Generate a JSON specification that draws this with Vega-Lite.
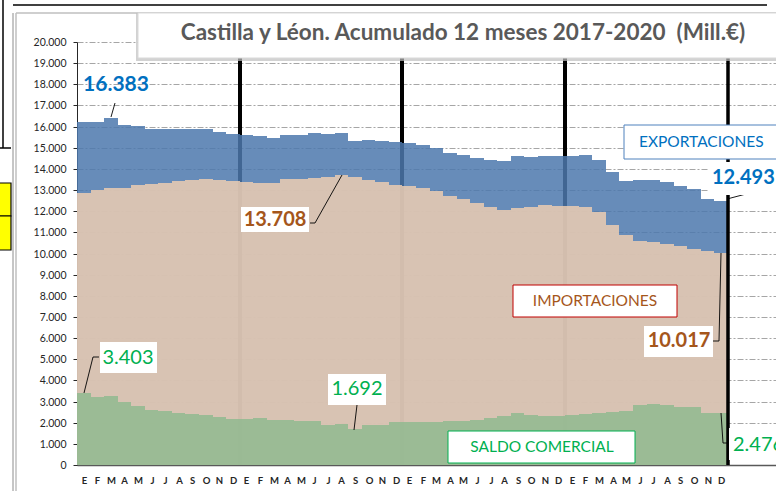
{
  "$schema": "https://vega.github.io/schema/vega-lite/v6.json",
  "width": 699,
  "height": 423,
  "autosize": {"type": "none"},
  "padding": {"left": 77, "top": 42, "right": 0, "bottom": 26},
  "background": "white",
  "config": {
    "view": {"stroke": null},
    "font": "Lato",
    "axis": {"labelOverlap": false, "labelBound": false, "labelFlush": false},
    "axisX": {"labelOverlap": false, "labelFont": "Lato", "labelFontWeight": "bold", "labelFontSize": 9.5, "labelColor": "#262626", "ticks": false, "grid": false, "domainColor": "#595959", "domainWidth": 1.5, "labelPadding": 10, "labelAngle": 0, "tickCount": 100},
    "axisY": {"labelOverlap": false, "labelFont": "Lato", "labelFontSize": 10.5, "labelColor": "#262626", "grid": true, "gridColor": "#a6a6a6", "gridDash": [6, 2, 2, 2], "gridWidth": 1, "domainColor": "#262626", "tickColor": "#262626", "tickSize": 4, "labelPadding": 7, "tickCount": 50}
  },
  "datasets": {
    "months": [
      {"k": 0, "m": "E", "exp": 16240, "imp": 12840, "sal": 3403},
      {"k": 1, "m": "F", "exp": 16200, "imp": 12990, "sal": 3200},
      {"k": 2, "m": "M", "exp": 16383, "imp": 13100, "sal": 3280},
      {"k": 3, "m": "A", "exp": 16060, "imp": 13080, "sal": 2980},
      {"k": 4, "m": "M", "exp": 16040, "imp": 13230, "sal": 2810},
      {"k": 5, "m": "J", "exp": 15870, "imp": 13270, "sal": 2600},
      {"k": 6, "m": "J", "exp": 15870, "imp": 13320, "sal": 2550},
      {"k": 7, "m": "A", "exp": 15890, "imp": 13420, "sal": 2470},
      {"k": 8, "m": "S", "exp": 15900, "imp": 13480, "sal": 2420},
      {"k": 9, "m": "O", "exp": 15870, "imp": 13500, "sal": 2370},
      {"k": 10, "m": "N", "exp": 15760, "imp": 13480, "sal": 2280},
      {"k": 11, "m": "D", "exp": 15630, "imp": 13440, "sal": 2190},
      {"k": 12, "m": "E", "exp": 15580, "imp": 13400, "sal": 2180},
      {"k": 13, "m": "F", "exp": 15550, "imp": 13330, "sal": 2220},
      {"k": 14, "m": "M", "exp": 15460, "imp": 13340, "sal": 2120},
      {"k": 15, "m": "A", "exp": 15620, "imp": 13500, "sal": 2120},
      {"k": 16, "m": "M", "exp": 15600, "imp": 13500, "sal": 2100},
      {"k": 17, "m": "J", "exp": 15680, "imp": 13550, "sal": 2080},
      {"k": 18, "m": "J", "exp": 15640, "imp": 13620, "sal": 1900},
      {"k": 19, "m": "A", "exp": 15720, "imp": 13708, "sal": 1920},
      {"k": 20, "m": "S", "exp": 15330, "imp": 13630, "sal": 1692},
      {"k": 21, "m": "O", "exp": 15360, "imp": 13490, "sal": 1870},
      {"k": 22, "m": "N", "exp": 15300, "imp": 13390, "sal": 1910},
      {"k": 23, "m": "D", "exp": 15270, "imp": 13240, "sal": 2030},
      {"k": 24, "m": "E", "exp": 15220, "imp": 13180, "sal": 2040},
      {"k": 25, "m": "F", "exp": 15120, "imp": 13090, "sal": 2030},
      {"k": 26, "m": "M", "exp": 14970, "imp": 12960, "sal": 2010},
      {"k": 27, "m": "A", "exp": 14760, "imp": 12700, "sal": 2060},
      {"k": 28, "m": "M", "exp": 14680, "imp": 12600, "sal": 2080},
      {"k": 29, "m": "J", "exp": 14520, "imp": 12380, "sal": 2140},
      {"k": 30, "m": "J", "exp": 14430, "imp": 12200, "sal": 2230},
      {"k": 31, "m": "A", "exp": 14380, "imp": 12080, "sal": 2300},
      {"k": 32, "m": "S", "exp": 14620, "imp": 12160, "sal": 2460},
      {"k": 33, "m": "O", "exp": 14570, "imp": 12200, "sal": 2370},
      {"k": 34, "m": "N", "exp": 14600, "imp": 12280, "sal": 2320},
      {"k": 35, "m": "D", "exp": 14590, "imp": 12250, "sal": 2340},
      {"k": 36, "m": "E", "exp": 14600, "imp": 12230, "sal": 2370},
      {"k": 37, "m": "F", "exp": 14640, "imp": 12220, "sal": 2420},
      {"k": 38, "m": "M", "exp": 14400, "imp": 11950, "sal": 2450},
      {"k": 39, "m": "A", "exp": 13850, "imp": 11360, "sal": 2490},
      {"k": 40, "m": "M", "exp": 13420, "imp": 10880, "sal": 2540},
      {"k": 41, "m": "J", "exp": 13460, "imp": 10600, "sal": 2860},
      {"k": 42, "m": "J", "exp": 13460, "imp": 10550, "sal": 2880},
      {"k": 43, "m": "A", "exp": 13360, "imp": 10450, "sal": 2820},
      {"k": 44, "m": "S", "exp": 13200, "imp": 10350, "sal": 2760},
      {"k": 45, "m": "O", "exp": 13040, "imp": 10220, "sal": 2760},
      {"k": 46, "m": "N", "exp": 12560, "imp": 10100, "sal": 2440},
      {"k": 47, "m": "D", "exp": 12493, "imp": 10017, "sal": 2476}
    ],
    "years": [{"k": 12}, {"k": 24}, {"k": 36}, {"k": 48}]
  },
  "layer": [
    {
      "data": {"name": "years"},
      "transform": [{"filter": "datum.k < 48"}],
      "mark": {"type": "rule", "color": "#000000", "strokeWidth": 4},
      "encoding": {
        "x": {
          "field": "k", "type": "quantitative",
          "scale": {"domain": [0, 51.55], "nice": false, "zero": false, "round": true},
          "axis": {
            "values": [0.5,1.5,2.5,3.5,4.5,5.5,6.5,7.5,8.5,9.5,10.5,11.5,12.5,13.5,14.5,15.5,16.5,17.5,18.5,19.5,20.5,21.5,22.5,23.5,24.5,25.5,26.5,27.5,28.5,29.5,30.5,31.5,32.5,33.5,34.5,35.5,36.5,37.5,38.5,39.5,40.5,41.5,42.5,43.5,44.5,45.5,46.5,47.5],
            "labelExpr": "['E','F','M','A','M','J','J','A','S','O','N','D'][floor(datum.value) % 12]",
            "title": null, "labelOverlap": false, "tickCount": 100
          }
        },
        "y": {
          "datum": 0, "type": "quantitative",
          "scale": {"domain": [0, 20000], "nice": false, "zero": true, "round": true},
          "axis": {
            "values": [0,1000,2000,3000,4000,5000,6000,7000,8000,9000,10000,11000,12000,13000,14000,15000,16000,17000,18000,19000,20000],
            "labelExpr": "replace(format(datum.value, ','), ',', '.')",
            "title": null, "labelOverlap": false, "tickCount": 50
          }
        },
        "y2": {"datum": 20000}
      }
    },
    {
      "data": {"name": "months"},
      "mark": {"type": "area", "interpolate": "step-after", "color": "#4c78ad", "opacity": 0.85},
      "encoding": {
        "x": {"field": "k", "type": "quantitative"},
        "y": {"field": "exp", "type": "quantitative"},
        "y2": {"datum": 0}
      }
    },
    {
      "data": {"name": "months"},
      "transform": [{"filter": "datum.k == 47"}],
      "mark": {"type": "rect", "color": "#4c78ad", "opacity": 0.85},
      "encoding": {
        "x": {"field": "k", "type": "quantitative"},
        "x2": {"datum": 48},
        "y": {"field": "exp", "type": "quantitative"},
        "y2": {"datum": 0}
      }
    },
    {
      "data": {"name": "months"},
      "mark": {"type": "area", "interpolate": "step-after", "color": "#ecccb1", "opacity": 0.85},
      "encoding": {
        "x": {"field": "k", "type": "quantitative"},
        "y": {"field": "imp", "type": "quantitative"},
        "y2": {"datum": 0}
      }
    },
    {
      "data": {"name": "months"},
      "transform": [{"filter": "datum.k == 47"}],
      "mark": {"type": "rect", "color": "#ecccb1", "opacity": 0.85},
      "encoding": {
        "x": {"field": "k", "type": "quantitative"},
        "x2": {"datum": 48},
        "y": {"field": "imp", "type": "quantitative"},
        "y2": {"datum": 0}
      }
    },
    {
      "data": {"name": "months"},
      "mark": {"type": "area", "interpolate": "step-after", "color": "#90ba8f", "opacity": 0.85},
      "encoding": {
        "x": {"field": "k", "type": "quantitative"},
        "y": {"field": "sal", "type": "quantitative"},
        "y2": {"datum": 0}
      }
    },
    {
      "data": {"name": "months"},
      "transform": [{"filter": "datum.k == 47"}],
      "mark": {"type": "rect", "color": "#90ba8f", "opacity": 0.85},
      "encoding": {
        "x": {"field": "k", "type": "quantitative"},
        "x2": {"datum": 48},
        "y": {"field": "sal", "type": "quantitative"},
        "y2": {"datum": 0}
      }
    },
    {
      "data": {"name": "years"},
      "transform": [{"filter": "datum.k == 48"}],
      "mark": {"type": "rule", "color": "#000000", "strokeWidth": 3.5},
      "encoding": {
        "x": {"field": "k", "type": "quantitative"},
        "y": {"datum": 0},
        "y2": {"datum": 20000}
      }
    },
    {
      "data": {"values": [{}]},
      "layer": [
        {"mark": {"type": "rule", "color": "#000000", "strokeWidth": 0.9}, "encoding": {"x": {"datum": 2.80}, "y": {"datum": 17116}, "x2": {"datum": 2.51}, "y2": {"datum": 16454}}},
        {"mark": {"type": "rule", "color": "#000000", "strokeWidth": 0.9}, "encoding": {"x": {"datum": 17.18}, "y": {"datum": 11456}, "x2": {"datum": 17.55}, "y2": {"datum": 11456}}},
        {"mark": {"type": "rule", "color": "#000000", "strokeWidth": 0.9}, "encoding": {"x": {"datum": 17.55}, "y": {"datum": 11456}, "x2": {"datum": 19.52}, "y2": {"datum": 13712}}},
        {"mark": {"type": "rule", "color": "#000000", "strokeWidth": 0.9}, "encoding": {"x": {"datum": 1.62}, "y": {"datum": 5092}, "x2": {"datum": 1.20}, "y2": {"datum": 5092}}},
        {"mark": {"type": "rule", "color": "#000000", "strokeWidth": 0.9}, "encoding": {"x": {"datum": 1.20}, "y": {"datum": 5092}, "x2": {"datum": 0.52}, "y2": {"datum": 3390}}},
        {"mark": {"type": "rule", "color": "#000000", "strokeWidth": 0.9}, "encoding": {"x": {"datum": 20.63}, "y": {"datum": 2837}, "x2": {"datum": 20.45}, "y2": {"datum": 1655}}},
        {"mark": {"type": "rule", "color": "#000000", "strokeWidth": 0.9}, "encoding": {"x": {"datum": 47.91}, "y": {"datum": 12577}, "x2": {"datum": 49.31}, "y2": {"datum": 12799}}},
        {"mark": {"type": "rule", "color": "#000000", "strokeWidth": 0.9}, "encoding": {"x": {"datum": 46.92}, "y": {"datum": 5863}, "x2": {"datum": 47.35}, "y2": {"datum": 5863}}},
        {"mark": {"type": "rule", "color": "#000000", "strokeWidth": 0.9}, "encoding": {"x": {"datum": 47.35}, "y": {"datum": 5863}, "x2": {"datum": 47.47}, "y2": {"datum": 10024}}},
        {"mark": {"type": "rule", "color": "#000000", "strokeWidth": 0.9}, "encoding": {"x": {"datum": 47.47}, "y": {"datum": 2444}, "x2": {"datum": 47.61}, "y2": {"datum": 1026}}},
        {"mark": {"type": "rule", "color": "#000000", "strokeWidth": 0.9}, "encoding": {"x": {"datum": 47.61}, "y": {"datum": 1026}, "x2": {"datum": 48.04}, "y2": {"datum": 1026}}},

        {"mark": {"type": "rule", "color": "#000000", "strokeWidth": 1.5}, "encoding": {"x": {"datum": -4.72}, "y": {"datum": 21749}, "x2": {"datum": 50.88}, "y2": {"datum": 21749}}},
        {"mark": {"type": "rule", "color": "#000000", "strokeWidth": 1.5}, "encoding": {"x": {"datum": -5.46}, "y": {"datum": 21990}, "x2": {"datum": -5.46}, "y2": {"datum": 14988}}},
        {"mark": {"type": "rule", "color": "#000000", "strokeWidth": 1.5}, "encoding": {"x": {"datum": -5.70}, "y": {"datum": 14988}, "x2": {"datum": -4.87}, "y2": {"datum": 14988}}},
        {"mark": {"type": "rect", "fill": "#ffff00", "stroke": "#000000", "strokeWidth": 1.2}, "encoding": {"x": {"datum": -5.75}, "x2": {"datum": -4.87}, "y": {"datum": 13333}, "y2": {"datum": 11773}}},
        {"mark": {"type": "rect", "fill": "#ffff00", "stroke": "#000000", "strokeWidth": 1.2}, "encoding": {"x": {"datum": -5.75}, "x2": {"datum": -4.87}, "y": {"datum": 11773}, "y2": {"datum": 10165}}},
        {"mark": {"type": "rule", "color": "#8c8c8c", "strokeWidth": 1}, "encoding": {"x": {"datum": -4.72}, "y": {"datum": 21371}, "x2": {"datum": -4.72}, "y2": {"datum": -1300}}},
        {"mark": {"type": "rule", "color": "#bfbfbf", "strokeWidth": 1.5}, "encoding": {"x": {"datum": -4.52}, "y": {"datum": 21371}, "x2": {"datum": -4.52}, "y2": {"datum": -1300}}},
        {"mark": {"type": "rule", "color": "#bfbfbf", "strokeWidth": 1.5}, "encoding": {"x": {"datum": -4.52}, "y": {"datum": 21371}, "x2": {"datum": 53}, "y2": {"datum": 21371}}},

        {"mark": {"type": "rect", "fill": "#bfbfbf", "opacity": 0.7}, "encoding": {"x": {"datum": 4.32}, "x2": {"datum": 53}, "y": {"datum": 21371}, "y2": {"datum": 19100}}},
        {"mark": {"type": "rect", "fill": "#ffffff", "stroke": "#d9d9d9", "strokeWidth": 1}, "encoding": {"x": {"datum": 4.50}, "x2": {"datum": 53}, "y": {"datum": 21371}, "y2": {"datum": 19243}}},
        {"mark": {"type": "rect", "fill": "#ffffff"}, "encoding": {"x": {"datum": 12.09}, "x2": {"datum": 17.11}, "y": {"datum": 12199}, "y2": {"datum": 11017}}},
        {"mark": {"type": "rect", "fill": "#ffffff"}, "encoding": {"x": {"datum": 1.70}, "x2": {"datum": 5.90}, "y": {"datum": 5816}, "y2": {"datum": 4350}}},
        {"mark": {"type": "rect", "fill": "#ffffff"}, "encoding": {"x": {"datum": 18.53}, "x2": {"datum": 22.79}, "y": {"datum": 4303}, "y2": {"datum": 2837}}},
        {"mark": {"type": "rect", "fill": "#ffffff"}, "encoding": {"x": {"datum": 46.53}, "x2": {"datum": 53}, "y": {"datum": 14326}, "y2": {"datum": 12766}}},
        {"mark": {"type": "rect", "fill": "#ffffff", "stroke": "#4f81bd", "strokeWidth": 1}, "encoding": {"x": {"datum": 40.34}, "x2": {"datum": 53}, "y": {"datum": 16076}, "y2": {"datum": 14468}}},
        {"mark": {"type": "rect", "fill": "#ffffff", "stroke": "#c00000", "strokeWidth": 1}, "encoding": {"x": {"datum": 32.15}, "x2": {"datum": 44.25}, "y": {"datum": 8511}, "y2": {"datum": 6998}}},
        {"mark": {"type": "rect", "fill": "#ffffff"}, "encoding": {"x": {"datum": 41.84}, "x2": {"datum": 46.92}, "y": {"datum": 6572}, "y2": {"datum": 5121}}},
        {"mark": {"type": "rect", "fill": "#ffffff"}, "encoding": {"x": {"datum": 48.08}, "x2": {"datum": 53}, "y": {"datum": 1749}, "y2": {"datum": 236}}},
        {"mark": {"type": "rect", "fill": "#ffffff", "stroke": "#00b050", "strokeWidth": 1}, "encoding": {"x": {"datum": 27.36}, "x2": {"datum": 41.15}, "y": {"datum": 1608}, "y2": {"datum": 95}}},

        {"mark": {"type": "text", "text": "Castilla y Léon. Acumulado 12 meses 2017-2020 \u00a0(Mill.€)", "font": "Lato", "fontSize": 22.5, "fontWeight": "bold", "color": "#595959", "align": "center", "baseline": "middle"}, "encoding": {"x": {"datum": 28.47}, "y": {"datum": 20426}}},
        {"mark": {"type": "text", "text": "16.383", "font": "Lato", "fontSize": 21, "fontWeight": "bold", "color": "#0070c0", "align": "center", "baseline": "middle"}, "encoding": {"x": {"datum": 2.876}, "y": {"datum": 17967}}},
        {"mark": {"type": "text", "text": "13.708", "font": "Lato", "fontSize": 20, "fontWeight": "bold", "color": "#a5561b", "align": "center", "baseline": "middle"}, "encoding": {"x": {"datum": 14.60}, "y": {"datum": 11584}}},
        {"mark": {"type": "text", "text": "3.403", "font": "Lato", "fontSize": 20, "color": "#00b050", "align": "center", "baseline": "middle"}, "encoding": {"x": {"datum": 3.76}, "y": {"datum": 5059}}},
        {"mark": {"type": "text", "text": "1.692", "font": "Lato", "fontSize": 20, "color": "#00b050", "align": "center", "baseline": "middle"}, "encoding": {"x": {"datum": 20.65}, "y": {"datum": 3570}}},
        {"mark": {"type": "text", "text": "12.493", "font": "Lato", "fontSize": 20, "fontWeight": "bold", "color": "#0070c0", "align": "left", "baseline": "middle"}, "encoding": {"x": {"datum": 46.80}, "y": {"datum": 13584}}},
        {"mark": {"type": "text", "text": "EXPORTACIONES", "font": "Lato", "fontSize": 15.5, "color": "#0070c0", "align": "left", "baseline": "middle"}, "encoding": {"x": {"datum": 41.45}, "y": {"datum": 15261}}},
        {"mark": {"type": "text", "text": "IMPORTACIONES", "font": "Lato", "fontSize": 15.5, "color": "#a5561b", "align": "center", "baseline": "middle"}, "encoding": {"x": {"datum": 38.2}, "y": {"datum": 7754}}},
        {"mark": {"type": "text", "text": "10.017", "font": "Lato", "fontSize": 20, "fontWeight": "bold", "color": "#a5561b", "align": "center", "baseline": "middle"}, "encoding": {"x": {"datum": 44.4}, "y": {"datum": 5863}}},
        {"mark": {"type": "text", "text": "2.476", "font": "Lato", "fontSize": 20, "color": "#00b050", "align": "left", "baseline": "middle"}, "encoding": {"x": {"datum": 48.38}, "y": {"datum": 946}}},
        {"mark": {"type": "text", "text": "SALDO COMERCIAL", "font": "Lato", "fontSize": 15.5, "color": "#00b050", "align": "center", "baseline": "middle"}, "encoding": {"x": {"datum": 34.26}, "y": {"datum": 851}}}
      ]
    }
  ]
}
